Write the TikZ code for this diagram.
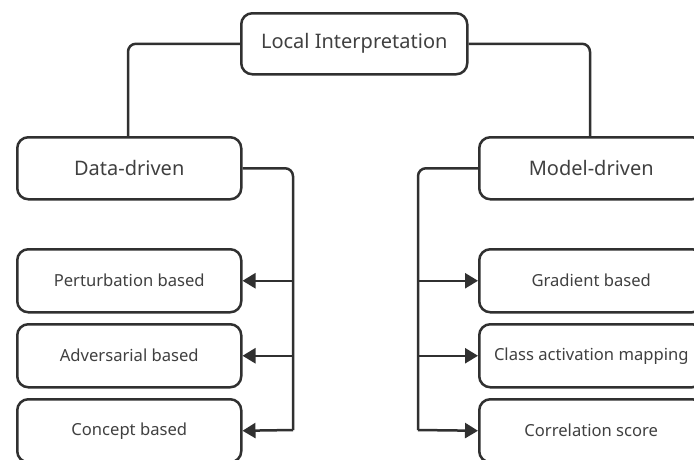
\documentclass[tikz,border=0pt]{standalone}
\usepackage{fontspec}
\setmainfont{Noto Sans}
\usetikzlibrary{arrows.meta}
\definecolor{linec}{HTML}{303030}
\definecolor{textc}{HTML}{404040}
\tikzset{
  box/.style={draw=linec, line width=2.5pt, rounded corners=11pt, fill=white, text=textc, anchor=north west, inner sep=0pt},
  bigbox/.style={box, font=\fontsize{20}{22}\selectfont},
  smallbox/.style={box, font=\fontsize{16.6}{19}\selectfont},
  conn/.style={draw=linec, line width=2.5pt, rounded corners=8pt},
  arr/.style={draw=linec, line width=2.5pt, -{Triangle[length=13pt,width=15pt]}},
}
\begin{document}
\begin{tikzpicture}[x=1pt,y=-1pt]
\useasboundingbox (0,0) rectangle (694,459);
\clip (0,0) rectangle (694,459);
\fill[white] (0,0) rectangle (694,459);
% top
\node[bigbox, minimum width=226pt, minimum height=61pt] (li) at (240,12) {Local Interpretation};
\node[bigbox, minimum width=224pt, minimum height=62pt] (dd) at (16,136) {Data-driven};
\node[bigbox, minimum width=224pt, minimum height=62pt] (md) at (478,136) {Model-driven};
% left children
\node[smallbox, minimum width=224pt, minimum height=63pt] (p1) at (16,248) {Perturbation based};
\node[smallbox, minimum width=224pt, minimum height=63pt] (p2) at (16,323) {Adversarial based};
\node[smallbox, minimum width=224pt, minimum height=63pt] (p3) at (16,398) {Concept based};
% right children
\node[smallbox, minimum width=224pt, minimum height=63pt] (q1) at (478,248) {Gradient based};
\node[smallbox, minimum width=224pt, minimum height=63pt] (q2) at (478,323) {Class activation mapping};
\node[smallbox, minimum width=224pt, minimum height=63pt] (q3) at (478,398) {Correlation score};
% connectors from root
\draw[conn] (li.west) -| (dd.north -| 128,0);
\draw[conn] (li.east) -| (md.north -| 590,0);
% left spine
\coordinate (ls) at (293,430);
\draw[conn] (dd.east) -| (ls);
\draw[arr] (p1.east -| ls) -- (p1.east);
\draw[arr] (p2.east -| ls) -- (p2.east);
\draw[arr] (ls) -- (p3.east);
% right spine
\coordinate (rs) at (418,430);
\draw[conn] (md.west) -| (rs);
\draw[arr] (q1.west -| rs) -- (q1.west);
\draw[arr] (q2.west -| rs) -- (q2.west);
\draw[arr] (rs) -- (q3.west);
\end{tikzpicture}
\end{document}
